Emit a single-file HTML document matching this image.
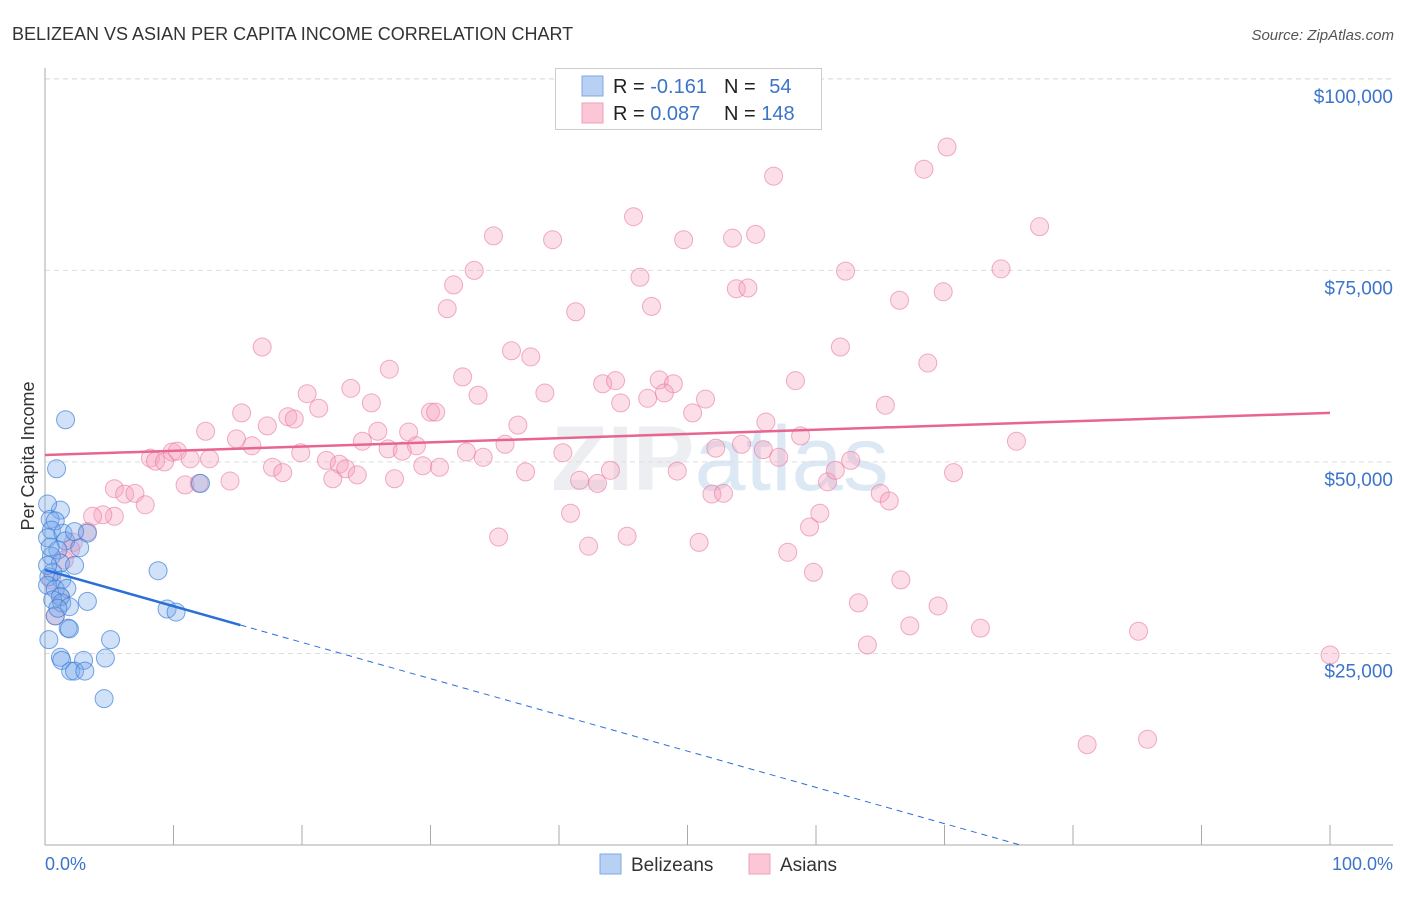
<!DOCTYPE html>
<html><head><meta charset="utf-8"><style>
body{margin:0;background:#fff;font-family:"Liberation Sans",sans-serif;}
svg text{font-family:"Liberation Sans",sans-serif;}
</style></head><body>
<svg id="chart" width="1406" height="892" xmlns="http://www.w3.org/2000/svg">
<text x="12" y="40" font-size="18" fill="#333">BELIZEAN VS ASIAN PER CAPITA INCOME CORRELATION CHART</text>
<text x="1394" y="40" font-size="15" fill="#555" font-style="italic" text-anchor="end">Source: ZipAtlas.com</text>
<text x="720" y="490" font-size="92" fill="#eceef1" text-anchor="middle" font-weight="bold">ZIP<tspan fill="#dde8f5" font-weight="normal">atlas</tspan></text>
<g id="grid"></g>
<g id="axes"></g>
<g id="pink"></g>
<g id="blue"></g>
<g id="trends"></g>
<text transform="translate(34,456) rotate(-90)" font-size="18" fill="#333" text-anchor="middle">Per Capita Income</text>
<text x="45" y="870" font-size="18" fill="#3b74c9">0.0%</text>
<text x="1393" y="870" font-size="18" fill="#3b74c9" text-anchor="end">100.0%</text>
<g>
<rect x="555.5" y="68.5" width="266" height="61" fill="#fff" stroke="#ccc"/>
<rect x="582" y="76" width="21" height="20" fill="#b7d0f4" stroke="#7fa8e0"/>
<rect x="582" y="103" width="21" height="20" fill="#fbc7d7" stroke="#eea0ba"/>
<text x="613" y="93" font-size="20" fill="#222">R = <tspan fill="#3b74c9">-0.161</tspan></text>
<text x="724" y="93" font-size="20" fill="#222">N = <tspan fill="#3b74c9" dx="8">54</tspan></text>
<text x="613" y="120" font-size="20" fill="#222">R = <tspan fill="#3b74c9">0.087</tspan></text>
<text x="724" y="120" font-size="20" fill="#222">N = <tspan fill="#3b74c9">148</tspan></text>
</g>
<g>
<rect x="600" y="854" width="21" height="20" fill="#b7d0f4" stroke="#7fa8e0"/>
<text x="631" y="871" font-size="19" fill="#333">Belizeans</text>
<rect x="749" y="854" width="21" height="20" fill="#fbc7d7" stroke="#eea0ba"/>
<text x="780" y="871" font-size="19" fill="#333">Asians</text>
</g>
</svg>
<script>
const yTicks=[25000,50000,75000,100000];
const yTickLabels=["$25,000","$50,000","$75,000","$100,000"];
const xTicks=[0,10,20,30,40,50,60,70,80,90,100];
const pinkX=[70.2,68.4,56.7,77.4,45.8,34.9,39.5,49.7,53.5,55.3,33.4,46.3,62.3,74.4,31.8,53.8,54.7,69.9,66.5,31.3,47.2,41.3,16.9,36.3,37.8,61.9,68.7,26.8,32.5,43.4,44.4,47.8,48.9,58.4,20.4,23.8,33.7,38.9,48.2,51.4,15.3,17.3,18.9,19.4,21.3,25.4,30.0,30.4,36.8,44.8,46.9,50.4,56.1,65.4,12.5,14.9,16.1,19.9,21.9,22.9,24.7,25.9,26.7,28.3,28.9,27.8,32.8,34.1,35.8,40.3,52.2,54.2,55.9,57.1,58.8,62.7,75.6,8.2,8.6,9.3,9.9,10.3,11.3,12.8,10.9,12.0,14.4,17.7,18.5,22.4,23.4,24.3,27.2,29.4,30.7,37.4,41.6,43.0,44.0,49.2,51.9,52.8,60.9,61.5,65.0,65.7,70.7,5.4,6.2,7.0,7.8,5.4,4.5,3.7,3.3,2.2,2.0,40.9,35.3,42.3,45.3,50.9,59.5,60.3,57.8,59.8,63.3,66.6,69.5,67.3,72.8,85.1,64.0,100,81.1,85.8,0.8,1.2,0.5,1.5];
const pinkY=[91.1,88.2,87.3,80.7,82.0,79.5,79.0,79.0,79.2,79.7,75.0,74.1,74.9,75.2,73.1,72.6,72.7,72.2,71.1,70.0,70.3,69.6,65.0,64.5,63.7,65.0,62.9,62.1,61.1,60.2,60.6,60.7,60.2,60.6,58.9,59.6,58.7,59.0,59.0,58.2,56.4,54.7,55.9,55.6,57.0,57.7,56.5,56.5,54.8,57.7,58.3,56.4,55.2,57.4,54.0,53.0,52.1,51.2,50.2,49.7,52.7,54.0,51.7,53.9,52.1,51.4,51.3,50.6,52.3,51.2,51.8,52.3,51.6,50.6,53.4,50.2,52.7,50.5,50.1,50.0,51.3,51.4,50.4,50.4,47.0,47.2,47.5,49.3,48.6,47.8,49.1,48.3,47.8,49.5,49.3,48.7,47.6,47.2,48.9,48.8,45.8,45.9,47.4,48.9,45.9,44.9,48.6,46.5,45.8,45.9,44.4,42.9,43.1,42.9,40.9,39.5,38.6,43.3,40.2,39.0,40.3,39.5,41.5,43.3,38.2,35.6,31.6,34.6,31.2,28.6,28.3,27.9,26.1,24.8,13.1,13.8,29.9,32.4,34.6,37.2];
const blueX=[1.6,0.9,1.2,0.2,0.4,0.8,0.5,0.2,1.4,1.6,3.3,1.0,0.5,1.2,2.3,0.6,0.3,1.3,0.2,0.8,1.7,1.2,0.6,1.3,3.3,1.9,0.8,1.8,1.9,5.1,1.2,1.3,3.0,4.7,2.0,2.3,3.1,4.6,8.8,9.5,10.2,12.1,2.3,2.7,0.4,0.2,1.0,0.3];
const blueY=[55.5,49.1,43.7,44.5,42.5,42.3,41.1,40.1,40.7,39.7,40.7,38.5,37.7,36.8,36.5,35.6,35.0,34.6,33.9,33.4,33.5,32.4,32.0,31.6,31.8,31.1,29.9,28.3,28.2,26.8,24.5,24.1,24.1,24.4,22.7,22.7,22.7,19.1,35.8,30.8,30.4,47.2,40.9,38.8,38.9,36.5,30.9,26.8];
const pinkTrend=[50.9,56.4];
const blueTrend=[35.9,-0.473];
const blueSolidEnd=15.2;

const NS="http://www.w3.org/2000/svg";
const X=p=>45+p*12.85;
const Y=k=>845-k*7.662;
function mk(tag,attrs,parent){const e=document.createElementNS(NS,tag);for(const k in attrs)e.setAttribute(k,attrs[k]);parent.appendChild(e);return e;}
const gridG=document.getElementById('grid'),axesG=document.getElementById('axes');
yTicks.forEach((v,i)=>{
  const g=mk('line',{x1:45,x2:1393,y1:Y(v/1000),y2:Y(v/1000),stroke:'#ddd','stroke-dasharray':'5,4'},gridG);
  
  
  const t=mk('text',{x:1393,y:Y(v/1000)+24,'font-size':19,fill:'#3b74c9','text-anchor':'end'},gridG);
  t.textContent=yTickLabels[i];
  
  
});
const topGrid=mk('line',{x1:45,x2:1393,y1:79,y2:79,stroke:'#ddd','stroke-dasharray':'5,4'},gridG);


const ya=mk('line',{x1:45,x2:45,y1:68,y2:845,stroke:'#aaa'},axesG);


const xa=mk('line',{x1:45,x2:1393,y1:845,y2:845,stroke:'#aaa'},axesG);


xTicks.forEach(v=>{
  const t=mk('line',{x1:X(v),x2:X(v),y1:825,y2:845,stroke:'#aaa'},axesG);
  
  
});
const pg=document.getElementById('pink');
pinkX.forEach((x,i)=>{
  const c=mk('circle',{cx:X(x),cy:Y(pinkY[i]),r:9,fill:'rgba(245,160,190,0.35)',stroke:'rgba(232,120,160,0.6)','stroke-width':1},pg);
  
  
});
const bg=document.getElementById('blue');
blueX.forEach((x,i)=>{
  const c=mk('circle',{cx:X(x),cy:Y(blueY[i]),r:9,fill:'rgba(120,170,235,0.35)',stroke:'rgba(50,120,215,0.65)','stroke-width':1},bg);
  
  
});
const tg=document.getElementById('trends');
const pl=mk('line',{x1:X(0),y1:Y(pinkTrend[0]),x2:X(100),y2:Y(pinkTrend[1]),stroke:'#e8658f','stroke-width':2.5},tg);


const bf=p=>blueTrend[0]+blueTrend[1]*p;
const bl=mk('line',{x1:X(0),y1:Y(bf(0)),x2:X(blueSolidEnd),y2:Y(bf(blueSolidEnd)),stroke:'#2a6fd6','stroke-width':2.5},tg);


const zeroPct=-blueTrend[0]/blueTrend[1];
const bd=mk('line',{x1:X(blueSolidEnd),y1:Y(bf(blueSolidEnd)),x2:X(zeroPct),y2:Y(0),stroke:'#2a6fd6','stroke-width':1,'stroke-dasharray':'6,5'},tg);


</script>
</body></html>
